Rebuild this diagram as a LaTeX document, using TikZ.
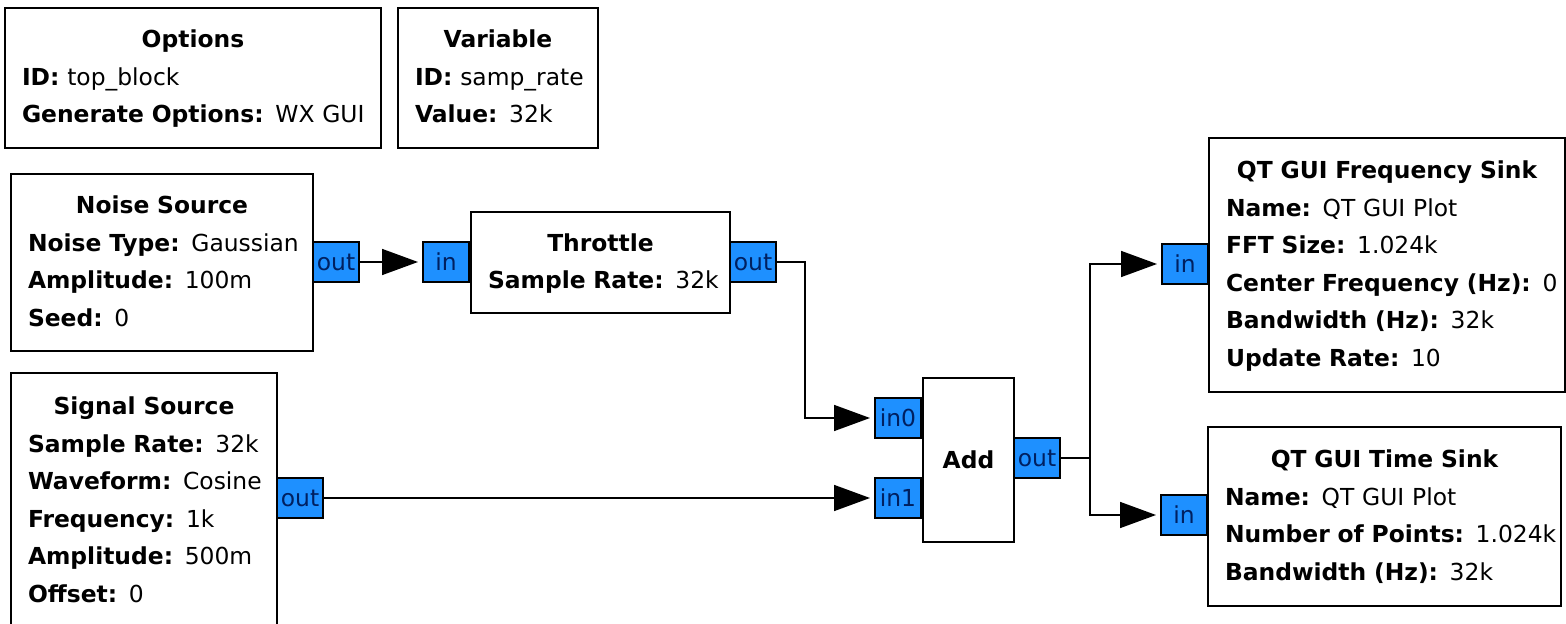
\documentclass[tikz,border=0pt]{standalone}
\usepackage{fontspec}
\setmainfont{DejaVu Sans}
\usepackage{xcolor}
\usepackage{tikz}
\usetikzlibrary{arrows.meta}
\definecolor{portfill}{RGB}{30,144,255}
\definecolor{porttext}{RGB}{0,32,96}
\newcommand{\blktitle}[1]{\noindent\makebox[\hsize][c]{\strut\bfseries #1}}
\newcommand{\fld}[2]{\makebox[\hsize][l]{\strut\textbf{#1:} #2}}
\tikzset{
  blk/.style={draw, line width=1pt, fill=white, anchor=north west, align=left,
              inner xsep=8.5pt, inner ysep=0pt, font=\fontsize{11.7}{18.75}\selectfont},
  port/.style={draw, line width=1pt, fill=portfill, text=porttext, minimum width=23pt,
               minimum height=20pt, inner sep=0pt, font=\fontsize{11.7}{14}\selectfont},
  conn/.style={-{Triangle[length=18pt, width=13pt]}, line width=0.8pt, shorten >=2pt}
}

\begin{document}
\begin{tikzpicture}[x=0.5pt, y=-0.5pt]
  \useasboundingbox (0,0) rectangle (1566,624);
  \clip (0,0) rectangle (1566,624);
  % blocks
  \node[blk, text width=171pt, minimum height=70pt] (opts) at (4,7)
    {\blktitle{Options}\\ \fld{ID}{top\_block}\\ \fld{Generate Options}{WX GUI}};
  \node[blk, text width=83pt, minimum height=70pt] (var) at (397,7)
    {\blktitle{Variable}\\ \fld{ID}{samp\_rate}\\ \fld{Value}{32k}};
  \node[blk, text width=134pt, minimum height=88.5pt] (noise) at (10,173)
    {\blktitle{Noise Source}\\ \fld{Noise Type}{Gaussian}\\ \fld{Amplitude}{100m}\\ \fld{Seed}{0}};
  \node[blk, text width=112.5pt, minimum height=50.5pt] (thr) at (470,211)
    {\blktitle{Throttle}\\ \fld{Sample Rate}{32k}};
  \node[blk, text width=116pt, minimum height=128pt] (sig) at (10,372)
    {\blktitle{Signal Source}\\ \fld{Sample Rate}{32k}\\ \fld{Waveform}{Cosine}\\
     \fld{Frequency}{1k}\\ \fld{Amplitude}{500m}\\ \fld{Offset}{0}};
  \node[blk, align=center, inner xsep=0pt, minimum width=45.5pt, minimum height=82pt,
        font=\fontsize{11.7}{14}\selectfont\bfseries] (add) at (922,377) {Add};
  \node[blk, text width=161pt, minimum height=127pt] (freq) at (1208,137)
    {\blktitle{QT GUI Frequency Sink}\\ \fld{Name}{QT GUI Plot}\\ \fld{FFT Size}{1.024k}\\
     \fld{Center Frequency (Hz)}{0}\\ \fld{Bandwidth (Hz)}{32k}\\ \fld{Update Rate}{10}};
  \node[blk, text width=159.5pt, minimum height=89.5pt] (time) at (1207,426)
    {\blktitle{QT GUI Time Sink}\\ \fld{Name}{QT GUI Plot}\\ \fld{Number of Points}{1.024k}\\
     \fld{Bandwidth (Hz)}{32k}};
  % ports
  \node[port] (nout) at (336,262) {out};
  \node[port] (tin) at (446,262) {in};
  \node[port] (thout) at (753,262) {out};
  \node[port] (sout) at (300,498) {out};
  \node[port] (ain0) at (898,418) {in0};
  \node[port] (ain1) at (898,498) {in1};
  \node[port] (aout) at (1037,458) {out};
  \node[port] (fin) at (1185,264) {in};
  \node[port] (tin2) at (1184,515) {in};
  % connections
  \draw[conn] (nout) -- (tin);
  \draw[conn] (thout.east) -- ++(14pt,0) |- (ain0.west);
  \draw[conn] (sout) -- (ain1);
  \draw[conn] (aout.east) -- ++(14.5pt,0) coordinate (split) |- (fin.west);
  \draw[conn] (split) |- (tin2.west);
\end{tikzpicture}
\end{document}
